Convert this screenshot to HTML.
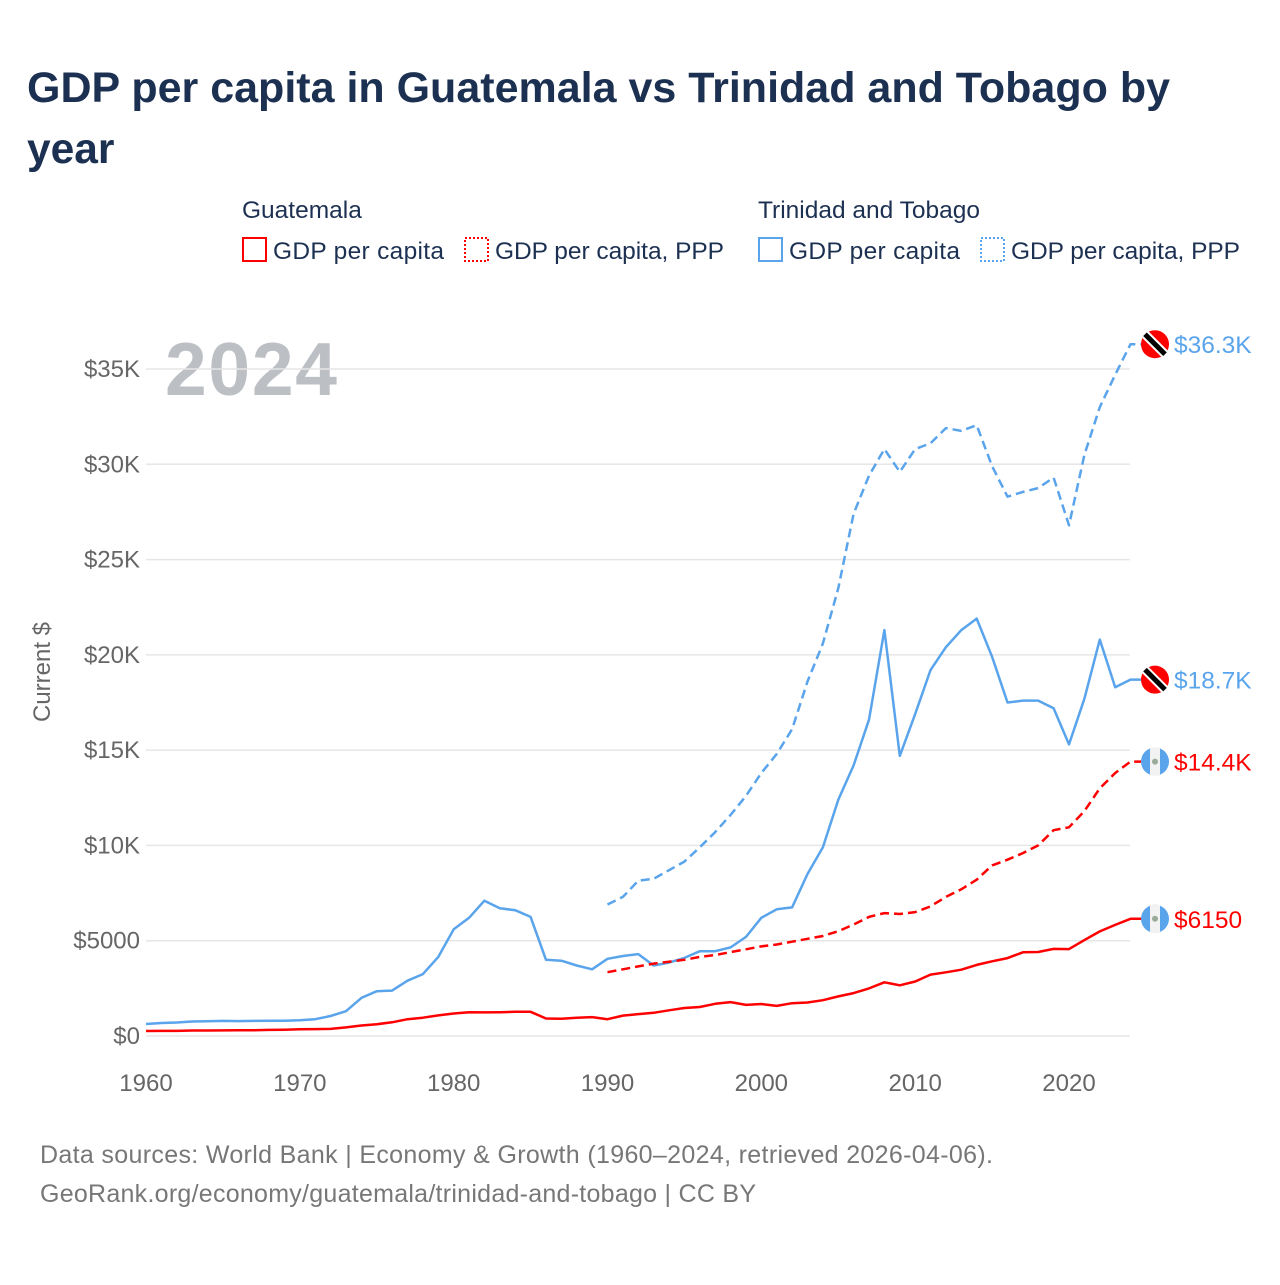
<!DOCTYPE html>
<html><head><meta charset="utf-8"><style>
body{margin:0;background:#fff;width:1280px;height:1280px;overflow:hidden;font-family:"Liberation Sans",sans-serif}
</style></head><body>
<svg id="chart" width="1280" height="1280" xmlns="http://www.w3.org/2000/svg" font-family="Liberation Sans, sans-serif">
<text x="27" y="102" font-size="42.5" font-weight="bold" fill="#1c3152" textLength="1143" lengthAdjust="spacingAndGlyphs">GDP per capita in Guatemala vs Trinidad and Tobago by</text>
<text x="27" y="163" font-size="42.5" font-weight="bold" fill="#1c3152">year</text>
<g font-size="24.5" fill="#1c3152">
<text x="242" y="218">Guatemala</text>
<text x="758" y="218">Trinidad and Tobago</text>
<g><rect x="243" y="238" width="23" height="23" fill="none" stroke="#f00" stroke-width="2"/><text x="273" y="259" textLength="171">GDP per capita</text></g>
<g><rect x="465" y="238" width="23" height="23" fill="none" stroke="#f00" stroke-width="2" stroke-dasharray="2 2"/><text x="495" y="259" textLength="229">GDP per capita, PPP</text></g>
<g><rect x="759" y="238" width="23" height="23" fill="none" stroke="#5aa4ec" stroke-width="2"/><text x="789" y="259" textLength="171">GDP per capita</text></g>
<g><rect x="981" y="238" width="23" height="23" fill="none" stroke="#5aa4ec" stroke-width="2" stroke-dasharray="2 2"/><text x="1011" y="259" textLength="229">GDP per capita, PPP</text></g>
</g>
<text x="165" y="395" font-size="75" font-weight="bold" fill="#bcbfc4" textLength="172">2024</text>
<text transform="translate(50,672) rotate(-90)" text-anchor="middle" font-size="24" fill="#666">Current $</text>
<g id="grid"></g><g id="series"></g><g id="ends"></g>
<text x="40" y="1163" font-size="25" fill="#777" textLength="953">Data sources: World Bank | Economy &amp; Growth (1960–2024, retrieved 2026-04-06).</text>
<text x="40" y="1202" font-size="25" fill="#777" textLength="716">GeoRank.org/economy/guatemala/trinidad-and-tobago | CC BY</text>
</svg>
<script>
const yTicks=[0,5000,10000,15000,20000,25000,30000,35000];
const yTickLabels=["$0","$5000","$10K","$15K","$20K","$25K","$30K","$35K"];
const xTicks=[1960,1970,1980,1990,2000,2010,2020];
const gtGdp=[260,265,270,290,290,295,300,300,320,330,350,360,370,450,550,620,720,880,960,1080,1180,1250,1240,1250,1270,1270,920,900,960,990,880,1070,1150,1220,1350,1470,1520,1690,1780,1630,1680,1580,1720,1760,1880,2080,2250,2500,2820,2660,2860,3220,3340,3480,3730,3920,4090,4390,4410,4570,4560,5030,5490,5830,6150];
const ttGdp=[630,680,710,760,770,790,780,790,800,800,830,880,1050,1300,2000,2350,2380,2900,3250,4150,5600,6200,7100,6700,6600,6250,4000,3950,3700,3500,4050,4200,4300,3700,3850,4100,4450,4450,4650,5200,6200,6650,6750,8500,9900,12400,14200,16600,21300,14700,16900,19200,20400,21300,21900,19900,17500,17600,17600,17200,15300,17700,20800,18300,18700];
const gtPpp=[3350,3500,3650,3800,3900,4000,4150,4250,4400,4550,4700,4800,4950,5100,5250,5500,5850,6250,6450,6400,6500,6800,7300,7700,8200,8950,9250,9600,10000,10800,10950,11800,13000,13800,14400];
const ttPpp=[6900,7300,8150,8250,8700,9150,9900,10700,11600,12600,13800,14800,16100,18600,20600,23500,27400,29400,30800,29600,30800,31100,31900,31750,32050,29900,28300,28550,28750,29300,26800,30500,33000,34700,36300];
const endLabels=["$6150","$14.4K","$18.7K","$36.3K"];
const NS="http://www.w3.org/2000/svg";
const X=yr=>146+(yr-1960)*(1069-146)/60;
const Y=v=>1036-v*(667/35000);
function mk(t,a,p){const e=document.createElementNS(NS,t);for(const k in a)e.setAttribute(k,a[k]);p.appendChild(e);return e;}
const grid=document.getElementById('grid');
yTicks.forEach((v,i)=>{
 const l=mk('line',{x1:146,x2:1130,y1:Y(v),y2:Y(v),stroke:'#e6e6e6','stroke-width':1.5},grid);
 
 
 const t=mk('text',{x:140,y:Y(v)+8,'text-anchor':'end','font-size':24,fill:'#666'},grid);
 t.textContent=yTickLabels[i];
 
 
});
xTicks.forEach(yr=>{
 const t=mk('text',{x:X(yr),y:1091,'text-anchor':'middle','font-size':24,fill:'#666'},grid);
 t.textContent=yr;
 
 
});
const S=document.getElementById('series');
function line(data,start,color,dash,name){
 let d=data.map((v,i)=>(i?'L':'M')+X(start+i).toFixed(1)+','+Y(v).toFixed(1)).join('');
 d+='L1142,'+Y(data[data.length-1]).toFixed(1);
 const p=mk('path',{d:d,fill:'none',stroke:color,'stroke-width':2.5,'stroke-linejoin':'round'},S);
 if(dash)p.setAttribute('stroke-dasharray','9 5');
 
 
}
line(ttPpp,1990,'#5aa4ec',true,'line-tt-ppp');
line(ttGdp,1960,'#5aa4ec',false,'line-tt-gdp');
line(gtPpp,1990,'#f00',true,'line-gt-ppp');
line(gtGdp,1960,'#f00',false,'line-gt-gdp');
const E=document.getElementById('ends');
const ends=[[gtGdp,'#f00','gt'],[gtPpp,'#f00','gt'],[ttGdp,'#5aa4ec','tt'],[ttPpp,'#5aa4ec','tt']];
ends.forEach((s,i)=>{
 const v=s[0][s[0].length-1],y=Y(v),cx=1155;
 const g=mk('g',{},E);
 
 
 if(s[2]==='tt'){
  mk('circle',{cx:cx,cy:y,r:14,fill:'#f00'},g);
  mk('line',{x1:cx-10,y1:y-10,x2:cx+10,y2:y+10,stroke:'#fff','stroke-width':9},g);
  mk('line',{x1:cx-10,y1:y-10,x2:cx+10,y2:y+10,stroke:'#000','stroke-width':5},g);
 }else{
  mk('circle',{cx:cx,cy:y,r:14,fill:'#5aa4ec'},g);
  mk('rect',{x:cx-5,y:y-14,width:10,height:28,fill:'#f2f2f2'},g);
  mk('circle',{cx:cx,cy:y,r:3,fill:'#9a9'},g);
 }
 const t=mk('text',{x:1174,y:y+9,'font-size':24.5,fill:s[1]},E);
 t.textContent=endLabels[i];
 
 
});
</script>
</body></html>
